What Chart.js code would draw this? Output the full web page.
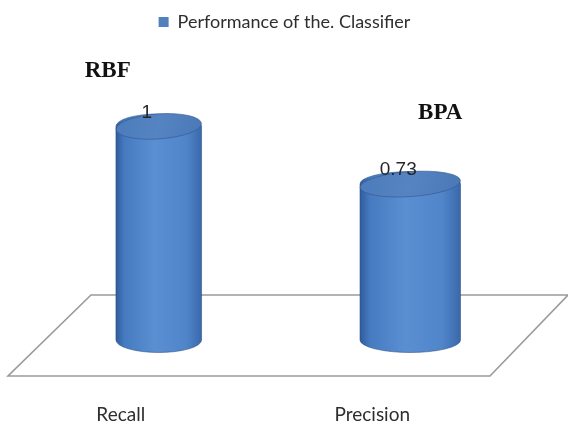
<!DOCTYPE html>
<html>
<head>
<meta charset="utf-8">
<script src="https://cdn.jsdelivr.net/npm/chart.js@4.4.1/dist/chart.umd.min.js"></script>
<style>
  html, body { margin: 0; padding: 0; background: #ffffff; }
  #wrap { width: 568px; height: 428px; }
</style>
</head>
<body>
<div id="wrap"><canvas id="chart" width="568" height="428"></canvas></div>
<script>
// Classifier performance (3-D cylinder style column chart)
const categories = ['Recall', 'Precision'];
const classifiers = ['RBF', 'BPA'];
const performance = [1, 0.73];
const seriesName = 'Performance of the. Classifier';

// Styling of the cylinders and annotations
const BLUE = '#4F81BD';
const cylinderWidthScale = [0.92, 1.08];      // slight perspective widening
const tagOffsets = [[-51, -55], [30, -71]];   // classifier name placement relative to bar top
const RY = 12.5;                               // half height of the elliptic caps
const CAP_TILT = -0.07;

const cylinderPlugin = {
  id: 'cylinders',
  beforeDatasetsDraw(chart) {
    // floor of the 3-D plot
    const { ctx, chartArea } = chart;
    const base = chart.scales.y.getPixelForValue(0);
    const backY = base - 45, frontY = base + 36;
    ctx.save();
    ctx.beginPath();
    ctx.moveTo(chartArea.left + 58, backY);
    ctx.lineTo(chartArea.right + 32, backY);
    ctx.lineTo(chartArea.right - 46, frontY);
    ctx.lineTo(chartArea.left - 25, frontY);
    ctx.closePath();
    ctx.fillStyle = '#ffffff';
    ctx.fill();
    ctx.lineWidth = 1.6;
    ctx.strokeStyle = '#9a9a9a';
    ctx.stroke();
    ctx.restore();
  },
  beforeDatasetDraw() {
    return false; // columns are painted as cylinders below
  },
  afterDatasetsDraw(chart) {
    const { ctx } = chart;
    const meta = chart.getDatasetMeta(0);
    meta.data.forEach((el, i) => {
      const cx = el.x;
      const rx = el.width * cylinderWidthScale[i] / 2;
      const topY = el.y;
      const baseY = el.base;

      ctx.save();
      // body
      const g = ctx.createLinearGradient(cx - rx, 0, cx + rx, 0);
      g.addColorStop(0, '#2f5d9c');
      g.addColorStop(0.1, '#467bc1');
      g.addColorStop(0.45, '#5a8fd2');
      g.addColorStop(0.82, '#5085ca');
      g.addColorStop(1, '#3a69ab');
      ctx.beginPath();
      ctx.moveTo(cx - rx, topY);
      ctx.lineTo(cx - rx, baseY);
      ctx.ellipse(cx, baseY, rx, RY, 0, Math.PI, 0, true);
      ctx.lineTo(cx + rx, topY);
      ctx.ellipse(cx, topY, rx, RY, 0, 0, Math.PI, true);
      ctx.closePath();
      ctx.fillStyle = g;
      ctx.fill();
      ctx.lineWidth = 1;
      ctx.strokeStyle = 'rgba(40,75,130,0.55)';
      ctx.stroke();

      // top cap
      const tg = ctx.createLinearGradient(cx - rx, topY - RY, cx + rx, topY + RY);
      tg.addColorStop(0, '#4b7bbb');
      tg.addColorStop(0.5, '#5684c2');
      tg.addColorStop(1, '#4a78b6');
      ctx.beginPath();
      ctx.ellipse(cx, topY, rx, RY, CAP_TILT, 0, Math.PI * 2);
      ctx.fillStyle = tg;
      ctx.fill();
      ctx.strokeStyle = 'rgba(50,85,140,0.6)';
      ctx.stroke();

      // value label
      ctx.font = '19px "Liberation Sans", Arial, sans-serif';
      ctx.textAlign = 'center';
      ctx.textBaseline = 'middle';
      ctx.fillStyle = '#262626';
      ctx.fillText(String(performance[i]), cx - 12, topY - 14);

      // classifier name
      ctx.font = 'bold 23px "Liberation Serif", "Times New Roman", serif';
      ctx.fillStyle = '#111111';
      ctx.fillText(classifiers[i], cx + tagOffsets[i][0], topY + tagOffsets[i][1]);
      ctx.restore();
    });
  }
};

new Chart(document.getElementById('chart'), {
  type: 'bar',
  data: {
    labels: categories,
    datasets: [{
      label: seriesName,
      data: performance,
      backgroundColor: BLUE,
      borderWidth: 0,
      barPercentage: 0.5,
      categoryPercentage: 0.74
    }]
  },
  options: {
    responsive: false,
    animation: false,
    devicePixelRatio: 1,
    layout: { padding: { left: 33, right: 32, top: 3, bottom: 4 } },
    plugins: {
      legend: {
        position: 'top',
        labels: {
          boxWidth: 10,
          boxHeight: 10,
          color: '#2e2e2e',
          font: { family: 'Lato, "Open Sans", sans-serif', size: 18 }
        }
      },
      tooltip: { enabled: false }
    },
    scales: {
      x: {
        grid: { display: false, drawTicks: false },
        border: { display: false },
        ticks: {
          color: '#2e2e2e',
          font: { family: 'Lato, "Open Sans", sans-serif', size: 19 },
          padding: 63,
          labelOffset: -38
        },
        afterFit(scale) { scale.height = 84; }
      },
      y: {
        display: false,
        min: 0,
        max: 1.4
      }
    }
  },
  plugins: [cylinderPlugin]
});
</script>
</body>
</html>
